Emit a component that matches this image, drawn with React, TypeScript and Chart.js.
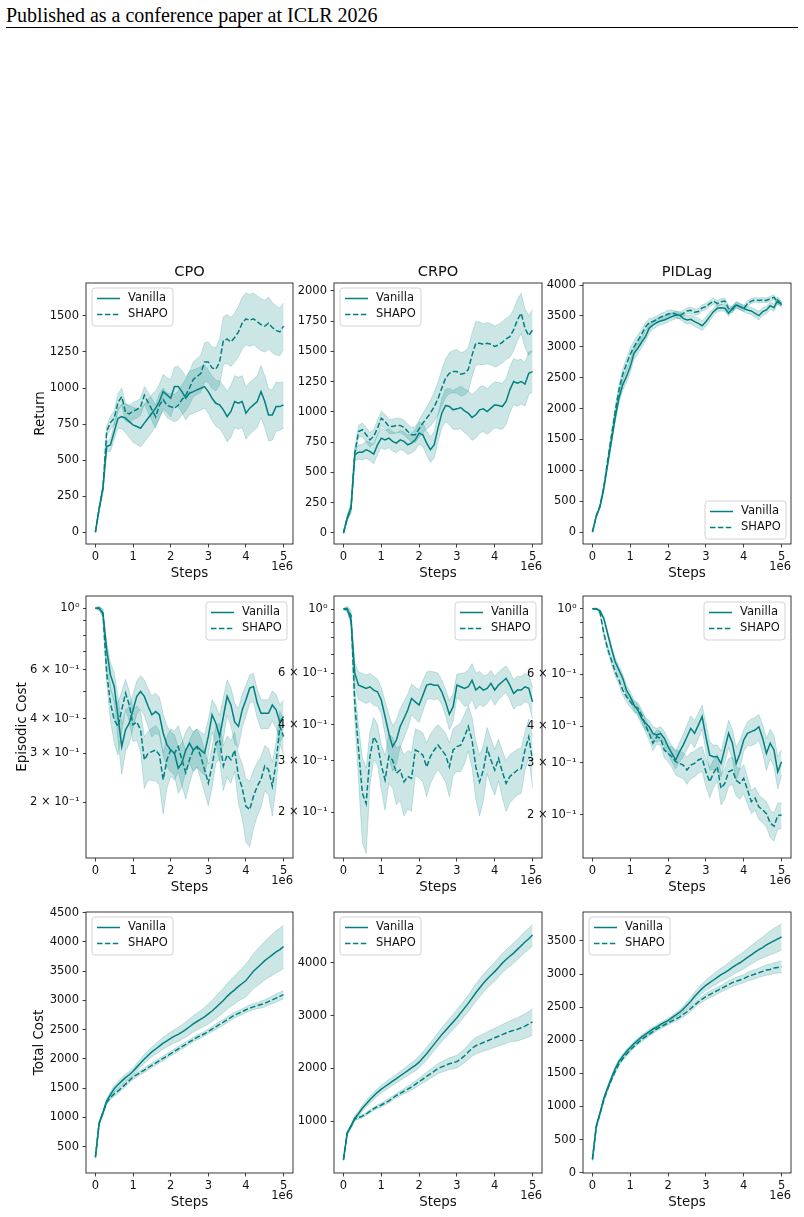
import React, { useEffect, useRef } from 'react';
import { Chart, registerables } from 'chart.js';

Chart.register(...registerables);

// ---------------- data ----------------
const STEPS_M = [0, 0.1, 0.2, 0.3, 0.4, 0.5, 0.6, 0.7, 0.8, 0.9, 1, 1.1, 1.2, 1.3, 1.4, 1.5, 1.6, 1.7, 1.8, 1.9, 2, 2.1, 2.2, 2.3, 2.4, 2.5, 2.6, 2.7, 2.8, 2.9, 3, 3.1, 3.2, 3.3, 3.4, 3.5, 3.6, 3.7, 3.8, 3.9, 4, 4.1, 4.2, 4.3, 4.4, 4.5, 4.6, 4.7, 4.8, 4.9, 5];

const X_TICKS = [0, 1, 2, 3, 4, 5];
const X_TICK_LABELS = ['0', '1', '2', '3', '4', '5'];
const X_LABEL = 'Steps';
const X_OFFSET_TEXT = '1e6';
const LEGEND_LABELS = ['Vanilla', 'SHAPO'];
const COLUMN_TITLES = ['CPO', 'CRPO', 'PIDLag'];
const ROW_LABELS = ['Return', 'Episodic Cost', 'Total Cost'];
const HEADER_TEXT = 'Published as a conference paper at ICLR 2026';

// Return
const CPO_RETURN_VANILLA = [0, 166, 305, 594, 605, 698, 790, 802, 790, 767, 744, 733, 721, 756, 790, 825, 860, 906, 975, 952, 929, 1010, 1010, 975, 929, 964, 975, 987, 998, 1010, 975, 929, 894, 883, 848, 802, 837, 906, 894, 906, 825, 860, 883, 906, 975, 906, 813, 813, 871, 871, 883];
const CPO_RETURN_SHAPO = [0, 160, 300, 700, 760, 790, 900, 940, 830, 820, 840, 850, 870, 950, 900, 850, 800, 880, 920, 880, 870, 860, 880, 920, 950, 1000, 1060, 1080, 1100, 1180, 1180, 1140, 1130, 1180, 1330, 1340, 1320, 1350, 1390, 1450, 1480, 1470, 1480, 1460, 1440, 1430, 1450, 1420, 1400, 1390, 1430];
const CPO_RETURN_VANILLA_SD = [5, 15, 25, 35, 45, 55, 70, 85, 100, 110, 120, 125, 130, 130, 130, 130, 120, 120, 120, 120, 130, 135, 140, 145, 150, 150, 150, 150, 150, 150, 150, 155, 160, 165, 170, 175, 180, 180, 180, 180, 180, 180, 180, 180, 180, 180, 180, 175, 170, 165, 160];
const CPO_RETURN_SHAPO_SD = [5, 15, 25, 35, 45, 50, 60, 60, 60, 60, 60, 60, 60, 60, 70, 75, 80, 80, 80, 85, 90, 95, 100, 105, 110, 115, 120, 125, 130, 135, 140, 145, 150, 160, 165, 170, 170, 170, 175, 180, 180, 180, 180, 180, 180, 180, 180, 175, 170, 165, 160];

const CRPO_RETURN_VANILLA = [0, 124, 206, 646, 668, 668, 688, 674, 652, 729, 784, 770, 784, 757, 743, 770, 757, 729, 743, 770, 825, 811, 743, 688, 729, 867, 990, 1054, 1045, 1018, 1026, 1037, 1010, 990, 955, 977, 1018, 1026, 1004, 1032, 1059, 1054, 1045, 1087, 1183, 1252, 1238, 1252, 1230, 1320, 1334];
const CRPO_RETURN_SHAPO = [0, 124, 206, 660, 839, 853, 812, 770, 798, 867, 949, 922, 880, 880, 889, 889, 872, 839, 812, 812, 861, 908, 949, 990, 1045, 1109, 1197, 1279, 1320, 1334, 1334, 1312, 1320, 1350, 1470, 1568, 1568, 1560, 1568, 1560, 1541, 1554, 1576, 1604, 1623, 1678, 1761, 1816, 1692, 1631, 1678];
const CRPO_RETURN_VANILLA_SD = [5, 20, 40, 50, 60, 65, 70, 75, 80, 80, 80, 80, 80, 80, 80, 80, 80, 80, 80, 85, 90, 95, 100, 105, 110, 115, 120, 135, 150, 160, 170, 175, 180, 185, 190, 190, 190, 190, 190, 190, 190, 190, 190, 190, 190, 190, 190, 185, 180, 175, 170];
const CRPO_RETURN_SHAPO_SD = [5, 20, 40, 45, 50, 55, 60, 60, 60, 60, 60, 60, 60, 60, 60, 60, 60, 60, 60, 65, 70, 80, 90, 105, 120, 135, 150, 160, 170, 175, 180, 180, 180, 180, 180, 180, 175, 170, 170, 170, 170, 170, 170, 170, 170, 170, 170, 165, 160, 165, 170];

const PID_RETURN_VANILLA = [0, 253, 415, 712, 1089, 1466, 1844, 2167, 2383, 2518, 2679, 2895, 2976, 3073, 3164, 3299, 3353, 3391, 3418, 3434, 3461, 3488, 3515, 3515, 3461, 3434, 3445, 3407, 3380, 3342, 3407, 3488, 3569, 3623, 3633, 3623, 3542, 3623, 3677, 3650, 3623, 3596, 3580, 3542, 3504, 3569, 3596, 3666, 3633, 3757, 3677];
const PID_RETURN_SHAPO = [0, 260, 420, 720, 1150, 1550, 1950, 2300, 2550, 2720, 2880, 3000, 3100, 3200, 3320, 3390, 3410, 3440, 3480, 3500, 3530, 3545, 3530, 3500, 3540, 3580, 3590, 3560, 3570, 3630, 3650, 3700, 3740, 3700, 3730, 3740, 3620, 3600, 3680, 3650, 3620, 3700, 3740, 3760, 3750, 3760, 3750, 3780, 3800, 3720, 3700];
const PID_RETURN_VANILLA_SD = [5, 20, 30, 40, 50, 60, 70, 80, 90, 95, 100, 95, 90, 85, 80, 75, 70, 65, 60, 60, 60, 60, 60, 60, 60, 65, 70, 75, 80, 80, 80, 70, 60, 55, 50, 50, 50, 50, 50, 50, 50, 55, 60, 65, 70, 65, 60, 60, 60, 55, 50];
const PID_RETURN_SHAPO_SD = [5, 20, 30, 40, 50, 60, 70, 80, 90, 95, 100, 95, 90, 80, 70, 65, 60, 60, 60, 60, 60, 55, 50, 50, 50, 50, 50, 50, 50, 50, 50, 50, 50, 50, 50, 50, 50, 50, 50, 50, 50, 45, 40, 40, 40, 40, 40, 40, 40, 40, 40];

// Episodic cost
const CPO_COST_VANILLA = [1.0, 1.0, 0.959, 0.708, 0.575, 0.522, 0.407, 0.317, 0.364, 0.385, 0.430, 0.481, 0.501, 0.481, 0.443, 0.413, 0.424, 0.413, 0.355, 0.322, 0.308, 0.300, 0.265, 0.277, 0.308, 0.326, 0.308, 0.317, 0.308, 0.300, 0.345, 0.413, 0.385, 0.345, 0.407, 0.481, 0.448, 0.389, 0.375, 0.430, 0.468, 0.515, 0.522, 0.455, 0.418, 0.418, 0.418, 0.448, 0.430, 0.389, 0.407];
const CPO_COST_SHAPO = [1.0, 1.0, 0.96, 0.583, 0.455, 0.396, 0.375, 0.430, 0.494, 0.448, 0.380, 0.389, 0.364, 0.284, 0.300, 0.304, 0.308, 0.296, 0.241, 0.284, 0.308, 0.300, 0.317, 0.284, 0.255, 0.284, 0.308, 0.317, 0.292, 0.262, 0.234, 0.270, 0.326, 0.336, 0.270, 0.296, 0.284, 0.308, 0.248, 0.225, 0.193, 0.188, 0.210, 0.228, 0.241, 0.270, 0.262, 0.228, 0.277, 0.375, 0.345];
const CPO_COST_VANILLA_SD = [0.005, 0.015, 0.03, 0.045, 0.06, 0.065, 0.07, 0.065, 0.06, 0.06, 0.06, 0.065, 0.07, 0.07, 0.07, 0.07, 0.07, 0.065, 0.06, 0.055, 0.05, 0.05, 0.05, 0.05, 0.05, 0.05, 0.05, 0.05, 0.05, 0.05, 0.05, 0.055, 0.06, 0.065, 0.07, 0.07, 0.07, 0.065, 0.06, 0.06, 0.06, 0.06, 0.06, 0.055, 0.05, 0.05, 0.05, 0.055, 0.06, 0.06, 0.06];
const CPO_COST_SHAPO_SD = [0.005, 0.015, 0.03, 0.045, 0.06, 0.07, 0.08, 0.07, 0.06, 0.055, 0.05, 0.055, 0.06, 0.06, 0.06, 0.065, 0.07, 0.065, 0.06, 0.06, 0.06, 0.06, 0.06, 0.055, 0.05, 0.05, 0.05, 0.05, 0.05, 0.045, 0.04, 0.045, 0.05, 0.05, 0.05, 0.05, 0.05, 0.05, 0.05, 0.05, 0.05, 0.05, 0.05, 0.05, 0.05, 0.05, 0.05, 0.05, 0.05, 0.05, 0.05];

const CRPO_COST_VANILLA = [1.0, 1.0, 0.917, 0.600, 0.547, 0.540, 0.533, 0.540, 0.526, 0.519, 0.486, 0.426, 0.373, 0.336, 0.354, 0.394, 0.420, 0.449, 0.492, 0.479, 0.467, 0.505, 0.547, 0.552, 0.547, 0.547, 0.519, 0.479, 0.434, 0.461, 0.547, 0.540, 0.533, 0.540, 0.569, 0.526, 0.540, 0.526, 0.533, 0.555, 0.526, 0.547, 0.562, 0.577, 0.547, 0.512, 0.526, 0.526, 0.540, 0.533, 0.479];
const CRPO_COST_SHAPO = [1.0, 1.0, 0.95, 0.473, 0.327, 0.232, 0.214, 0.311, 0.363, 0.345, 0.290, 0.258, 0.311, 0.302, 0.272, 0.279, 0.254, 0.265, 0.261, 0.327, 0.322, 0.314, 0.286, 0.311, 0.327, 0.340, 0.327, 0.314, 0.286, 0.327, 0.336, 0.340, 0.363, 0.394, 0.354, 0.286, 0.254, 0.279, 0.331, 0.302, 0.279, 0.306, 0.275, 0.251, 0.265, 0.272, 0.279, 0.282, 0.327, 0.363, 0.302];
const CRPO_COST_VANILLA_SD = [0.005, 0.02, 0.04, 0.05, 0.06, 0.06, 0.06, 0.06, 0.06, 0.055, 0.05, 0.055, 0.06, 0.06, 0.06, 0.06, 0.06, 0.06, 0.06, 0.06, 0.06, 0.06, 0.06, 0.06, 0.06, 0.055, 0.05, 0.05, 0.05, 0.05, 0.05, 0.06, 0.07, 0.075, 0.08, 0.075, 0.07, 0.065, 0.06, 0.06, 0.06, 0.06, 0.06, 0.06, 0.06, 0.06, 0.06, 0.06, 0.06, 0.06, 0.06];
const CRPO_COST_SHAPO_SD = [0.005, 0.02, 0.04, 0.06, 0.07, 0.075, 0.07, 0.065, 0.06, 0.055, 0.05, 0.055, 0.06, 0.06, 0.06, 0.06, 0.06, 0.06, 0.06, 0.06, 0.06, 0.06, 0.06, 0.06, 0.06, 0.06, 0.06, 0.06, 0.06, 0.06, 0.06, 0.065, 0.07, 0.07, 0.07, 0.065, 0.06, 0.06, 0.06, 0.055, 0.05, 0.05, 0.05, 0.05, 0.05, 0.05, 0.05, 0.05, 0.05, 0.055, 0.06];

const PID_COST_VANILLA = [1.0, 1.0, 0.984, 0.927, 0.825, 0.734, 0.661, 0.620, 0.581, 0.530, 0.503, 0.471, 0.453, 0.425, 0.409, 0.398, 0.378, 0.373, 0.378, 0.364, 0.341, 0.323, 0.307, 0.327, 0.345, 0.368, 0.393, 0.378, 0.403, 0.431, 0.368, 0.319, 0.315, 0.315, 0.299, 0.336, 0.378, 0.350, 0.299, 0.323, 0.359, 0.378, 0.383, 0.388, 0.398, 0.364, 0.323, 0.350, 0.332, 0.280, 0.303];
const PID_COST_SHAPO = [1.0, 1.0, 0.97, 0.825, 0.734, 0.670, 0.612, 0.573, 0.530, 0.503, 0.484, 0.466, 0.460, 0.436, 0.403, 0.378, 0.350, 0.368, 0.364, 0.332, 0.323, 0.315, 0.303, 0.299, 0.295, 0.284, 0.295, 0.299, 0.307, 0.311, 0.280, 0.259, 0.277, 0.291, 0.246, 0.256, 0.280, 0.284, 0.262, 0.256, 0.266, 0.243, 0.222, 0.228, 0.213, 0.208, 0.202, 0.188, 0.183, 0.199, 0.200];
const PID_COST_VANILLA_SD = [0.003, 0.005, 0.01, 0.015, 0.02, 0.02, 0.02, 0.02, 0.02, 0.02, 0.02, 0.02, 0.02, 0.02, 0.02, 0.02, 0.02, 0.02, 0.02, 0.02, 0.02, 0.02, 0.02, 0.025, 0.03, 0.035, 0.04, 0.04, 0.04, 0.04, 0.04, 0.035, 0.03, 0.03, 0.03, 0.035, 0.04, 0.04, 0.04, 0.035, 0.03, 0.035, 0.04, 0.04, 0.04, 0.04, 0.04, 0.04, 0.04, 0.035, 0.03];
const PID_COST_SHAPO_SD = [0.003, 0.005, 0.01, 0.015, 0.02, 0.02, 0.02, 0.02, 0.02, 0.02, 0.02, 0.02, 0.02, 0.02, 0.02, 0.02, 0.02, 0.02, 0.02, 0.02, 0.02, 0.025, 0.03, 0.03, 0.03, 0.03, 0.03, 0.03, 0.03, 0.03, 0.03, 0.03, 0.03, 0.03, 0.03, 0.03, 0.03, 0.03, 0.03, 0.03, 0.03, 0.025, 0.02, 0.02, 0.02, 0.02, 0.02, 0.02, 0.02, 0.02, 0.02];

// Total cost
const CPO_TOTAL_VANILLA = [320, 900, 1080, 1280, 1390, 1490, 1560, 1620, 1680, 1730, 1790, 1860, 1930, 2000, 2060, 2120, 2170, 2220, 2270, 2310, 2350, 2390, 2420, 2460, 2500, 2550, 2600, 2640, 2680, 2720, 2770, 2820, 2880, 2940, 3000, 3070, 3130, 3180, 3240, 3290, 3340, 3420, 3500, 3560, 3620, 3680, 3730, 3780, 3830, 3870, 3920];
const CPO_TOTAL_SHAPO = [320, 900, 1080, 1260, 1340, 1400, 1450, 1510, 1570, 1630, 1690, 1730, 1770, 1810, 1850, 1890, 1930, 1970, 2010, 2050, 2090, 2130, 2170, 2210, 2250, 2290, 2330, 2370, 2400, 2430, 2470, 2510, 2550, 2590, 2630, 2670, 2710, 2750, 2780, 2810, 2840, 2870, 2890, 2910, 2930, 2950, 2980, 3010, 3040, 3070, 3100];
const CPO_TOTAL_VANILLA_SD = [20, 30, 40, 45, 50, 55, 60, 60, 60, 60, 60, 65, 70, 75, 80, 85, 90, 95, 100, 105, 110, 115, 120, 125, 130, 135, 140, 145, 150, 160, 170, 180, 190, 200, 210, 220, 230, 240, 250, 265, 280, 290, 300, 310, 320, 330, 340, 350, 360, 365, 370];
const CPO_TOTAL_SHAPO_SD = [20, 25, 30, 35, 40, 40, 40, 40, 40, 40, 40, 40, 40, 40, 40, 40, 40, 40, 40, 40, 40, 40, 40, 40, 40, 40, 40, 40, 40, 40, 40, 45, 50, 50, 50, 50, 50, 50, 50, 50, 50, 50, 50, 50, 60, 60, 60, 65, 70, 70, 70];

const CRPO_TOTAL_VANILLA = [280, 780, 910, 1060, 1150, 1250, 1330, 1410, 1480, 1550, 1610, 1660, 1710, 1760, 1810, 1860, 1910, 1960, 2010, 2060, 2120, 2200, 2280, 2370, 2460, 2550, 2640, 2720, 2800, 2880, 2960, 3050, 3140, 3230, 3330, 3430, 3520, 3610, 3690, 3760, 3830, 3910, 3990, 4060, 4120, 4180, 4250, 4320, 4390, 4450, 4520];
const CRPO_TOTAL_SHAPO = [280, 780, 910, 1050, 1070, 1100, 1140, 1190, 1240, 1280, 1310, 1350, 1390, 1440, 1490, 1530, 1570, 1610, 1650, 1700, 1750, 1800, 1850, 1900, 1950, 2000, 2030, 2060, 2090, 2110, 2130, 2180, 2240, 2310, 2380, 2430, 2460, 2490, 2520, 2550, 2580, 2610, 2640, 2670, 2700, 2720, 2740, 2770, 2800, 2840, 2880];
const CRPO_TOTAL_VANILLA_SD = [20, 30, 40, 45, 50, 55, 60, 65, 70, 70, 70, 75, 80, 80, 80, 85, 90, 95, 100, 105, 110, 115, 120, 120, 120, 125, 130, 135, 140, 145, 150, 150, 150, 155, 160, 165, 170, 170, 170, 175, 180, 180, 180, 185, 190, 190, 190, 195, 200, 200, 200];
const CRPO_TOTAL_SHAPO_SD = [20, 25, 30, 30, 30, 30, 30, 30, 30, 35, 40, 40, 40, 40, 40, 45, 50, 55, 60, 65, 70, 75, 80, 85, 90, 95, 100, 105, 110, 115, 120, 125, 130, 140, 150, 155, 160, 165, 170, 175, 180, 185, 190, 195, 200, 210, 220, 225, 230, 240, 250];

const PID_TOTAL_VANILLA = [200, 700, 900, 1120, 1280, 1430, 1570, 1680, 1760, 1830, 1890, 1950, 2000, 2050, 2090, 2130, 2170, 2200, 2240, 2270, 2300, 2340, 2380, 2420, 2470, 2530, 2590, 2660, 2720, 2780, 2830, 2870, 2910, 2950, 2990, 3020, 3060, 3100, 3140, 3170, 3210, 3250, 3290, 3330, 3370, 3400, 3440, 3470, 3500, 3530, 3560];
const PID_TOTAL_SHAPO = [200, 690, 890, 1100, 1260, 1400, 1530, 1640, 1720, 1790, 1850, 1910, 1960, 2010, 2050, 2090, 2130, 2170, 2200, 2230, 2260, 2290, 2320, 2350, 2390, 2430, 2480, 2530, 2580, 2620, 2660, 2690, 2720, 2750, 2780, 2810, 2840, 2870, 2890, 2910, 2930, 2960, 2980, 3000, 3020, 3040, 3060, 3070, 3090, 3100, 3110];
const PID_TOTAL_VANILLA_SD = [20, 25, 30, 30, 30, 30, 30, 30, 30, 30, 30, 30, 30, 30, 30, 30, 30, 30, 30, 30, 30, 30, 30, 35, 40, 50, 60, 65, 70, 75, 80, 85, 90, 95, 100, 105, 110, 115, 120, 125, 130, 135, 140, 145, 150, 160, 170, 180, 190, 195, 200];
const PID_TOTAL_SHAPO_SD = [20, 25, 30, 30, 30, 30, 30, 30, 30, 30, 30, 30, 30, 30, 30, 30, 30, 30, 30, 30, 30, 30, 30, 35, 40, 40, 40, 40, 40, 45, 50, 50, 50, 50, 50, 55, 60, 60, 60, 60, 60, 65, 70, 70, 70, 75, 80, 80, 80, 85, 90];

// Tick values / labels
const CPO_RETURN_TICKS = [0, 250, 500, 750, 1000, 1250, 1500];
const CRPO_RETURN_TICKS = [0, 250, 500, 750, 1000, 1250, 1500, 1750, 2000];
const PID_RETURN_TICKS = [0, 500, 1000, 1500, 2000, 2500, 3000, 3500, 4000];
const COST_LOG_TICKS = [0.2, 0.3, 0.4, 0.5, 0.6, 0.7, 0.8, 0.9, 1];
const COST_LOG_TICK_LABELS = ['2 × 10⁻¹', '3 × 10⁻¹', '4 × 10⁻¹', '', '6 × 10⁻¹', '', '', '', '10⁰'];
const CPO_TOTAL_TICKS = [500, 1000, 1500, 2000, 2500, 3000, 3500, 4000, 4500];
const CRPO_TOTAL_TICKS = [1000, 2000, 3000, 4000];
const PID_TOTAL_TICKS = [0, 500, 1000, 1500, 2000, 2500, 3000, 3500];

// ---------------- styles / layout ----------------
const FONT = "'DejaVu Sans', sans-serif";
const TEAL = '#008080';
const BAND_FILL = 'rgba(0,128,128,0.2)';
const INK = '#111';
const COL_L = [86, 334, 583];
const COL_R = [293, 542, 791];
const ROW_T = [283, 596, 912];
const ROW_B = [544, 858, 1173];
const PADL = 86, PADT = 40, PADR = 12, PADB = 48;

type Panel = any;

const mkPanel = (r: number, c: number, extra: any): Panel => ({
  r, c,
  left: COL_L[c], right: COL_R[c], top: ROW_T[r], bottom: ROW_B[r],
  title: r === 0 ? COLUMN_TITLES[c] : null,
  ylabel: c === 0 ? ROW_LABELS[r] : null,
  ...extra,
});

const numLabels = (arr: number[]) => arr.map((v) => String(v));

const PANELS: Panel[] = [
  mkPanel(0, 0, { yType: 'linear', yMin: -83, yMax: 1729, yTicks: CPO_RETURN_TICKS, yTickLabels: numLabels(CPO_RETURN_TICKS), legend: 'ul', ylabelOff: 42, van: CPO_RETURN_VANILLA, sha: CPO_RETURN_SHAPO, vanSd: CPO_RETURN_VANILLA_SD, shaSd: CPO_RETURN_SHAPO_SD }),
  mkPanel(0, 1, { yType: 'linear', yMin: -91, yMax: 2066, yTicks: CRPO_RETURN_TICKS, yTickLabels: numLabels(CRPO_RETURN_TICKS), legend: 'ul', van: CRPO_RETURN_VANILLA, sha: CRPO_RETURN_SHAPO, vanSd: CRPO_RETURN_VANILLA_SD, shaSd: CRPO_RETURN_SHAPO_SD }),
  mkPanel(0, 2, { yType: 'linear', yMin: -194, yMax: 4033, yTicks: PID_RETURN_TICKS, yTickLabels: numLabels(PID_RETURN_TICKS), legend: 'lr', van: PID_RETURN_VANILLA, sha: PID_RETURN_SHAPO, vanSd: PID_RETURN_VANILLA_SD, shaSd: PID_RETURN_SHAPO_SD }),
  mkPanel(1, 0, { yType: 'logarithmic', yMin: 0.1257, yMax: 1.107, yTicks: COST_LOG_TICKS, yTickLabels: COST_LOG_TICK_LABELS, legend: 'ur', ylabelOff: 60, van: CPO_COST_VANILLA, sha: CPO_COST_SHAPO, vanSd: CPO_COST_VANILLA_SD, shaSd: CPO_COST_SHAPO_SD }),
  mkPanel(1, 1, { yType: 'logarithmic', yMin: 0.1389, yMax: 1.109, yTicks: COST_LOG_TICKS, yTickLabels: COST_LOG_TICK_LABELS, legend: 'ur', van: CRPO_COST_VANILLA, sha: CRPO_COST_SHAPO, vanSd: CRPO_COST_VANILLA_SD, shaSd: CRPO_COST_SHAPO_SD }),
  mkPanel(1, 2, { yType: 'logarithmic', yMin: 0.1429, yMax: 1.104, yTicks: COST_LOG_TICKS, yTickLabels: COST_LOG_TICK_LABELS, legend: 'ur', van: PID_COST_VANILLA, sha: PID_COST_SHAPO, vanSd: PID_COST_VANILLA_SD, shaSd: PID_COST_SHAPO_SD }),
  mkPanel(2, 0, { yType: 'linear', yMin: 50, yMax: 4512, yTicks: CPO_TOTAL_TICKS, yTickLabels: numLabels(CPO_TOTAL_TICKS), legend: 'ul', ylabelOff: 43, van: CPO_TOTAL_VANILLA, sha: CPO_TOTAL_SHAPO, vanSd: CPO_TOTAL_VANILLA_SD, shaSd: CPO_TOTAL_SHAPO_SD }),
  mkPanel(2, 1, { yType: 'linear', yMin: 26, yMax: 4956, yTicks: CRPO_TOTAL_TICKS, yTickLabels: numLabels(CRPO_TOTAL_TICKS), legend: 'ul', van: CRPO_TOTAL_VANILLA, sha: CRPO_TOTAL_SHAPO, vanSd: CRPO_TOTAL_VANILLA_SD, shaSd: CRPO_TOTAL_SHAPO_SD }),
  mkPanel(2, 2, { yType: 'linear', yMin: -5, yMax: 3937, yTicks: PID_TOTAL_TICKS, yTickLabels: numLabels(PID_TOTAL_TICKS), legend: 'ul', van: PID_TOTAL_VANILLA, sha: PID_TOTAL_SHAPO, vanSd: PID_TOTAL_VANILLA_SD, shaSd: PID_TOTAL_SHAPO_SD }),
];

function drawLegend(ctx: CanvasRenderingContext2D, a: any, pos: string) {
  const bw = 81, bh = 38;
  let x = a.left + 6, y = a.top + 5;
  if (pos === 'ur') { x = a.right - 6 - bw; y = a.top + 6; }
  if (pos === 'lr') { x = a.right - 5 - bw; y = a.bottom - 5 - bh; }
  const rad = 3;
  ctx.save();
  ctx.beginPath();
  ctx.moveTo(x + rad, y);
  ctx.lineTo(x + bw - rad, y);
  ctx.quadraticCurveTo(x + bw, y, x + bw, y + rad);
  ctx.lineTo(x + bw, y + bh - rad);
  ctx.quadraticCurveTo(x + bw, y + bh, x + bw - rad, y + bh);
  ctx.lineTo(x + rad, y + bh);
  ctx.quadraticCurveTo(x, y + bh, x, y + bh - rad);
  ctx.lineTo(x, y + rad);
  ctx.quadraticCurveTo(x, y, x + rad, y);
  ctx.closePath();
  ctx.fillStyle = 'rgba(255,255,255,0.8)';
  ctx.fill();
  ctx.strokeStyle = '#d3d3d3';
  ctx.lineWidth = 1;
  ctx.stroke();
  const rows = [y + 10.5, y + 26.5];
  rows.forEach((ry, i) => {
    ctx.beginPath();
    ctx.strokeStyle = TEAL;
    ctx.lineWidth = 1.5;
    ctx.setLineDash(i === 1 ? [5.5, 2.4] : []);
    ctx.moveTo(x + 5, ry);
    ctx.lineTo(x + 28, ry);
    ctx.stroke();
    ctx.setLineDash([]);
    ctx.fillStyle = INK;
    ctx.font = `11.5px ${FONT}`;
    ctx.textAlign = 'left';
    ctx.textBaseline = 'middle';
    ctx.fillText(LEGEND_LABELS[i], x + 36, ry);
  });
  ctx.restore();
}

const makeOverlay = (p: Panel) => ({
  id: 'overlay',
  afterDraw(chart: any) {
    const { ctx, chartArea: a } = chart;
    ctx.save();
    ctx.strokeStyle = '#222';
    ctx.lineWidth = 0.9;
    ctx.strokeRect(a.left, a.top, a.right - a.left, a.bottom - a.top);
    ctx.fillStyle = INK;
    const cx = (a.left + a.right) / 2;
    if (p.title) {
      ctx.font = `14.6px ${FONT}`;
      ctx.textAlign = 'center';
      ctx.textBaseline = 'alphabetic';
      ctx.fillText(p.title, cx, a.top - 7.3);
    }
    ctx.font = `13.4px ${FONT}`;
    ctx.textAlign = 'center';
    ctx.textBaseline = 'alphabetic';
    ctx.fillText(X_LABEL, cx, a.bottom + 33);
    ctx.font = `11.5px ${FONT}`;
    ctx.textAlign = 'right';
    ctx.fillText(X_OFFSET_TEXT, a.right, a.bottom + 26);
    if (p.ylabel) {
      ctx.save();
      ctx.translate(a.left - p.ylabelOff, (a.top + a.bottom) / 2);
      ctx.rotate(-Math.PI / 2);
      ctx.font = `13.4px ${FONT}`;
      ctx.textAlign = 'center';
      ctx.textBaseline = 'alphabetic';
      ctx.fillText(p.ylabel, 0, 0);
      ctx.restore();
    }
    drawLegend(ctx, a, p.legend);
    ctx.restore();
  },
});

function PanelChart({ p }: { p: Panel }) {
  const ref = useRef<HTMLCanvasElement>(null);
  const w = p.right - p.left + PADL + PADR;
  const h = p.bottom - p.top + PADT + PADB;
  useEffect(() => {
    const line = (mean: number[]) => STEPS_M.map((x, i) => ({ x, y: mean[i] }));
    const band = (mean: number[], sd: number[], s: number) =>
      STEPS_M.map((x, i) => ({ x, y: mean[i] + s * sd[i] }));
    const bandDs = (data: any, fill: any) => ({
      data, fill, backgroundColor: BAND_FILL, borderColor: BAND_FILL, borderWidth: 1,
      pointRadius: 0, order: 2,
    });
    const datasets: any[] = [
      { label: 'van-hi', ...bandDs(band(p.van, p.vanSd, 1), '+1') },
      { label: 'van-lo', ...bandDs(band(p.van, p.vanSd, -1), false) },
      { label: 'sha-hi', ...bandDs(band(p.sha, p.shaSd, 1), '+1') },
      { label: 'sha-lo', ...bandDs(band(p.sha, p.shaSd, -1), false) },
      { label: LEGEND_LABELS[0], data: line(p.van), borderColor: TEAL, borderWidth: 1.5, pointRadius: 0, fill: false, order: 0 },
      { label: LEGEND_LABELS[1], data: line(p.sha), borderColor: TEAL, borderWidth: 1.5, borderDash: [5.5, 2.4], pointRadius: 0, fill: false, order: 0 },
    ];
    const tickFont = { family: FONT, size: 11.5 };
    const grid = {
      display: true, drawOnChartArea: false, drawTicks: true,
      tickLength: p.yType === 'logarithmic' ? 3 : 3.5,
      tickColor: INK, tickWidth: 0.8, color: INK, lineWidth: 0.8,
    };
    const chart = new Chart(ref.current as HTMLCanvasElement, {
      type: 'line',
      data: { datasets },
      options: {
        responsive: false,
        maintainAspectRatio: false,
        animation: false,
        devicePixelRatio: 1,
        events: [],
        layout: { padding: { left: 0, top: PADT, right: PADR, bottom: 0 } },
        plugins: { legend: { display: false }, tooltip: { enabled: false }, title: { display: false } },
        scales: {
          x: {
            type: 'linear', min: -0.25, max: 5.25, bounds: 'data',
            afterBuildTicks: (s: any) => { s.ticks = X_TICKS.map((v) => ({ value: v })); },
            afterFit: (s: any) => { s.height = PADB; },
            ticks: {
              autoSkip: false, maxRotation: 0, padding: 3, color: INK, font: tickFont,
              callback: (v: any) => { const i = X_TICKS.indexOf(Number(v)); return i >= 0 ? X_TICK_LABELS[i] : ''; },
            },
            grid: { ...grid, tickLength: 3.5 },
            border: { display: false },
          },
          y: {
            type: p.yType, min: p.yMin, max: p.yMax, bounds: 'data',
            afterBuildTicks: (s: any) => { s.ticks = p.yTicks.map((v: number) => ({ value: v })); },
            afterFit: (s: any) => { s.width = PADL; },
            ticks: {
              autoSkip: false, padding: 3.5, color: INK, font: tickFont,
              callback: (v: any) => {
                const i = p.yTicks.findIndex((t: number) => Math.abs(t - Number(v)) < 1e-9);
                return i >= 0 ? p.yTickLabels[i] : '';
              },
            },
            grid,
            border: { display: false },
          },
        },
      } as any,
      plugins: [makeOverlay(p)],
    });
    return () => chart.destroy();
  }, []);
  return (
    <canvas
      ref={ref}
      width={w}
      height={h}
      style={{ position: 'absolute', left: p.left - PADL, top: p.top - PADT, width: w, height: h }}
    />
  );
}

export default function App() {
  return (
    <div style={{ position: 'absolute', left: 0, top: 0, width: 804, height: 1217, background: '#fff', overflow: 'hidden' }}>
      <div
        style={{
          position: 'absolute', left: 6, top: 4, fontFamily: "'Liberation Serif', serif", fontSize: 20,
          lineHeight: '22px', whiteSpace: 'nowrap', color: '#000',
        }}
      >
        {HEADER_TEXT}
      </div>
      <div style={{ position: 'absolute', left: 6, top: 27, width: 792, height: 1, background: '#000' }} />
      {PANELS.map((p, i) => (
        <PanelChart key={i} p={p} />
      ))}
    </div>
  );
}
